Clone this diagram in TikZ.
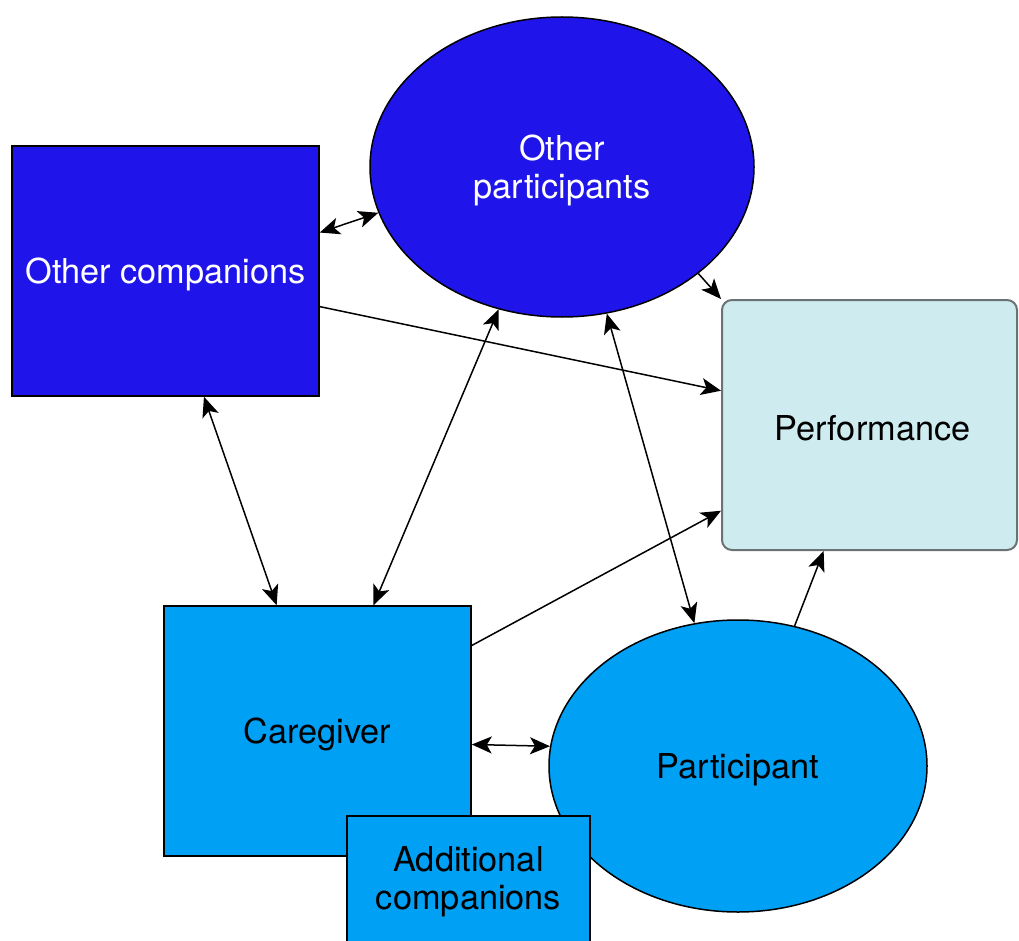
\documentclass[tikz,border=0pt]{standalone}
\usepackage{fontspec}
\setmainfont{TeX Gyre Heros}
\usetikzlibrary{shapes.geometric,arrows.meta}
\definecolor{dblue}{RGB}{31,21,234}
\definecolor{mblue}{RGB}{0,160,245}
\definecolor{lcyan}{RGB}{206,235,240}
\definecolor{gborder}{RGB}{105,115,115}
\tikzset{
  lbl/.style={font=\fontsize{34.3}{38}\selectfont, align=center, inner sep=0pt, yshift=-3.5pt},
  boxd/.style={draw=black, line width=1.5pt, fill=dblue, inner sep=0pt},
  boxm/.style={draw=black, line width=1.5pt, fill=mblue, inner sep=0pt},
  ell/.style={ellipse, inner sep=0pt},
  perfbox/.style={draw=gborder, line width=2pt, fill=lcyan, rounded corners=10pt, inner sep=0pt},
  arr/.style={line width=1.5pt, -{Stealth[length=20pt,width=17pt,inset=5pt]}},
  darr/.style={line width=1.5pt, {Stealth[length=20pt,width=17pt,inset=5pt]}-{Stealth[length=20pt,width=17pt,inset=5pt]}}
}
\begin{document}
\begin{tikzpicture}[x=1pt,y=-1pt]
\useasboundingbox (0,0) rectangle (1019,941);
\fill[white] (0,0) rectangle (1019,941);
\begin{scope}
\clip (0,0) rectangle (1019,941);
\node[boxd, minimum width=307pt, minimum height=250pt] (oc) at (165.5,271) {};
\node[lbl, text=white] (ocl) at (oc.center) {Other companions};
\node[boxd, ell, minimum width=384pt, minimum height=300pt] (op) at (562,167) {};
\node[lbl, text=white] (opl) at (op.center) {Other\\participants};
\node[perfbox, minimum width=295pt, minimum height=250pt] (perf) at (869.5,425) {};
\node[lbl, text=black] (perfl) at ([xshift=3pt]perf.center) {Performance};
\node[boxm, minimum width=307pt, minimum height=250pt] (cg) at (317.5,731) {};
\node[lbl, text=black] (cgl) at (cg.center) {Caregiver};
\node[boxm, ell, minimum width=378pt, minimum height=292pt] (part) at (738,766) {};
\node[lbl, text=black] (partl) at (part.center) {Participant};
\node[boxm, minimum width=243pt, minimum height=160pt, anchor=north] (ac) at (468.5,815) {};
\node[lbl, text=black] (acl) at (468.5,878) {Additional\\companions};
\end{scope}
\draw[darr] (oc.14) -- (op.194);
\draw[arr] (oc.-13) -- (perf.167);
\draw[arr] (op.-38) -- (perf.north west);
\draw[darr] (oc.-73) -- (cg.108);
\draw[darr] (op.246) -- (cg.66);
\draw[darr] (op.-73) -- (part.107);
\draw[arr] (cg.29) -- (perf.210);
\draw[arr] (part.68) -- (perf.250);
\draw[darr] (cg.-5) -- (part.174);
\end{tikzpicture}
\end{document}
